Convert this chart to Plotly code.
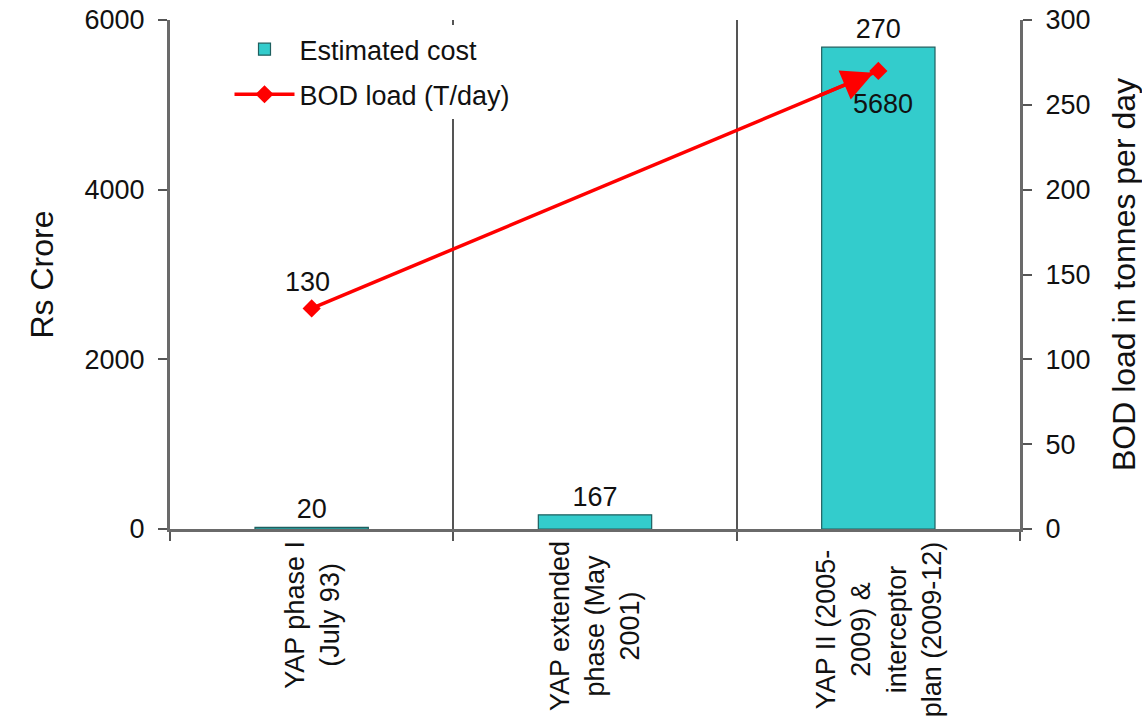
import plotly.graph_objects as go

categories = ["YAP phase I (July 93)", "YAP extended phase (May 2001)",
              "YAP II (2005-2009) & interceptor plan (2009-12)"]
category_labels = ["YAP phase I<br>(July 93)",
                   "YAP extended<br>phase (May<br>2001)",
                   "YAP II (2005-<br>2009) &<br>interceptor<br>plan (2009-12)"]
cost_values = [20, 167, 5680]
cost_labels = ["20", "167", "270"]
bod_values = [130, None, 270]
bod_labels = ["130", "", "5680"]

FONT = "Liberation Sans, Arial, sans-serif"
FS = 27

fig = go.Figure()
fig.add_trace(go.Bar(
    x=categories, y=cost_values, name="Estimated cost", legendgroup="a",
    marker=dict(color="#33CCCC", line=dict(color="#1f5f5f", width=1.2)),
    width=0.4, text=cost_labels, textposition="outside",
    textfont=dict(size=FS, color="#111"), cliponaxis=False, constraintext="none",
))
fig.add_trace(go.Scatter(
    x=categories, y=bod_values, name="BOD load (T/day)", yaxis="y2",
    legendgroup="b", mode="lines+markers", connectgaps=True,
    line=dict(color="#FF0000", width=3.5),
    marker=dict(symbol="diamond", size=14, color="#FF0000"),
))

# labels of the BOD line
for c, v, lab in zip(categories, bod_values, bod_labels):
    if v is None or not lab:
        continue
    above = v < 200
    fig.add_annotation(x=c, y=v, xref="x", yref="y2", text=lab,
                       showarrow=False, yshift=26 if above else -33,
                       xshift=-4 if above else 5,
                       font=dict(size=FS, color="#111"))

# arrow head near the final point
fig.add_annotation(x=categories[2], y=bod_values[2], xref="x", yref="y2",
                   ax=-60, ay=25, showarrow=True, arrowhead=2, arrowsize=1.8,
                   arrowwidth=3.5, arrowcolor="#FF0000", standoff=5, text="")

for c, lab in zip(categories, category_labels):
    fig.add_annotation(x=c, y=0, xref="x", yref="paper", yanchor="top",
                       yshift=-10, text=lab, textangle=-90, showarrow=False,
                       align="center", font=dict(size=FS, color="#111"))

axis_line = dict(showline=True, linecolor="#6a6a6a", linewidth=3,
                 ticks="outside", ticklen=9, tickwidth=2, tickcolor="#555")

fig.update_layout(
    width=1142, height=725,
    margin=dict(l=170, r=122, t=20, b=196, autoexpand=False),
    paper_bgcolor="white", plot_bgcolor="white",
    font=dict(family=FONT, size=FS, color="#111"),
    showlegend=True,
    legend=dict(x=0.07, y=0.99, xanchor="left", yanchor="top",
                bgcolor="white", font=dict(size=FS, color="#111"),
                itemwidth=60, traceorder="grouped", tracegroupgap=7),
    xaxis=dict(type="category", tickson="boundaries", showgrid=True,
               gridcolor="#555", gridwidth=1.5, showticklabels=False,
               range=[-0.5, 2.5], **axis_line),
    yaxis=dict(range=[0, 6000], dtick=2000, showgrid=False, zeroline=False,
               title=dict(text="Rs Crore", standoff=22),
               ticklabelstandoff=8, **axis_line),
    yaxis2=dict(range=[0, 300], dtick=50, overlaying="y", side="right",
                showgrid=False, zeroline=False,
                title=dict(text="BOD load in tonnes per day", standoff=24),
                ticklabelstandoff=8, **axis_line),
)

fig.write_html("out.html")
